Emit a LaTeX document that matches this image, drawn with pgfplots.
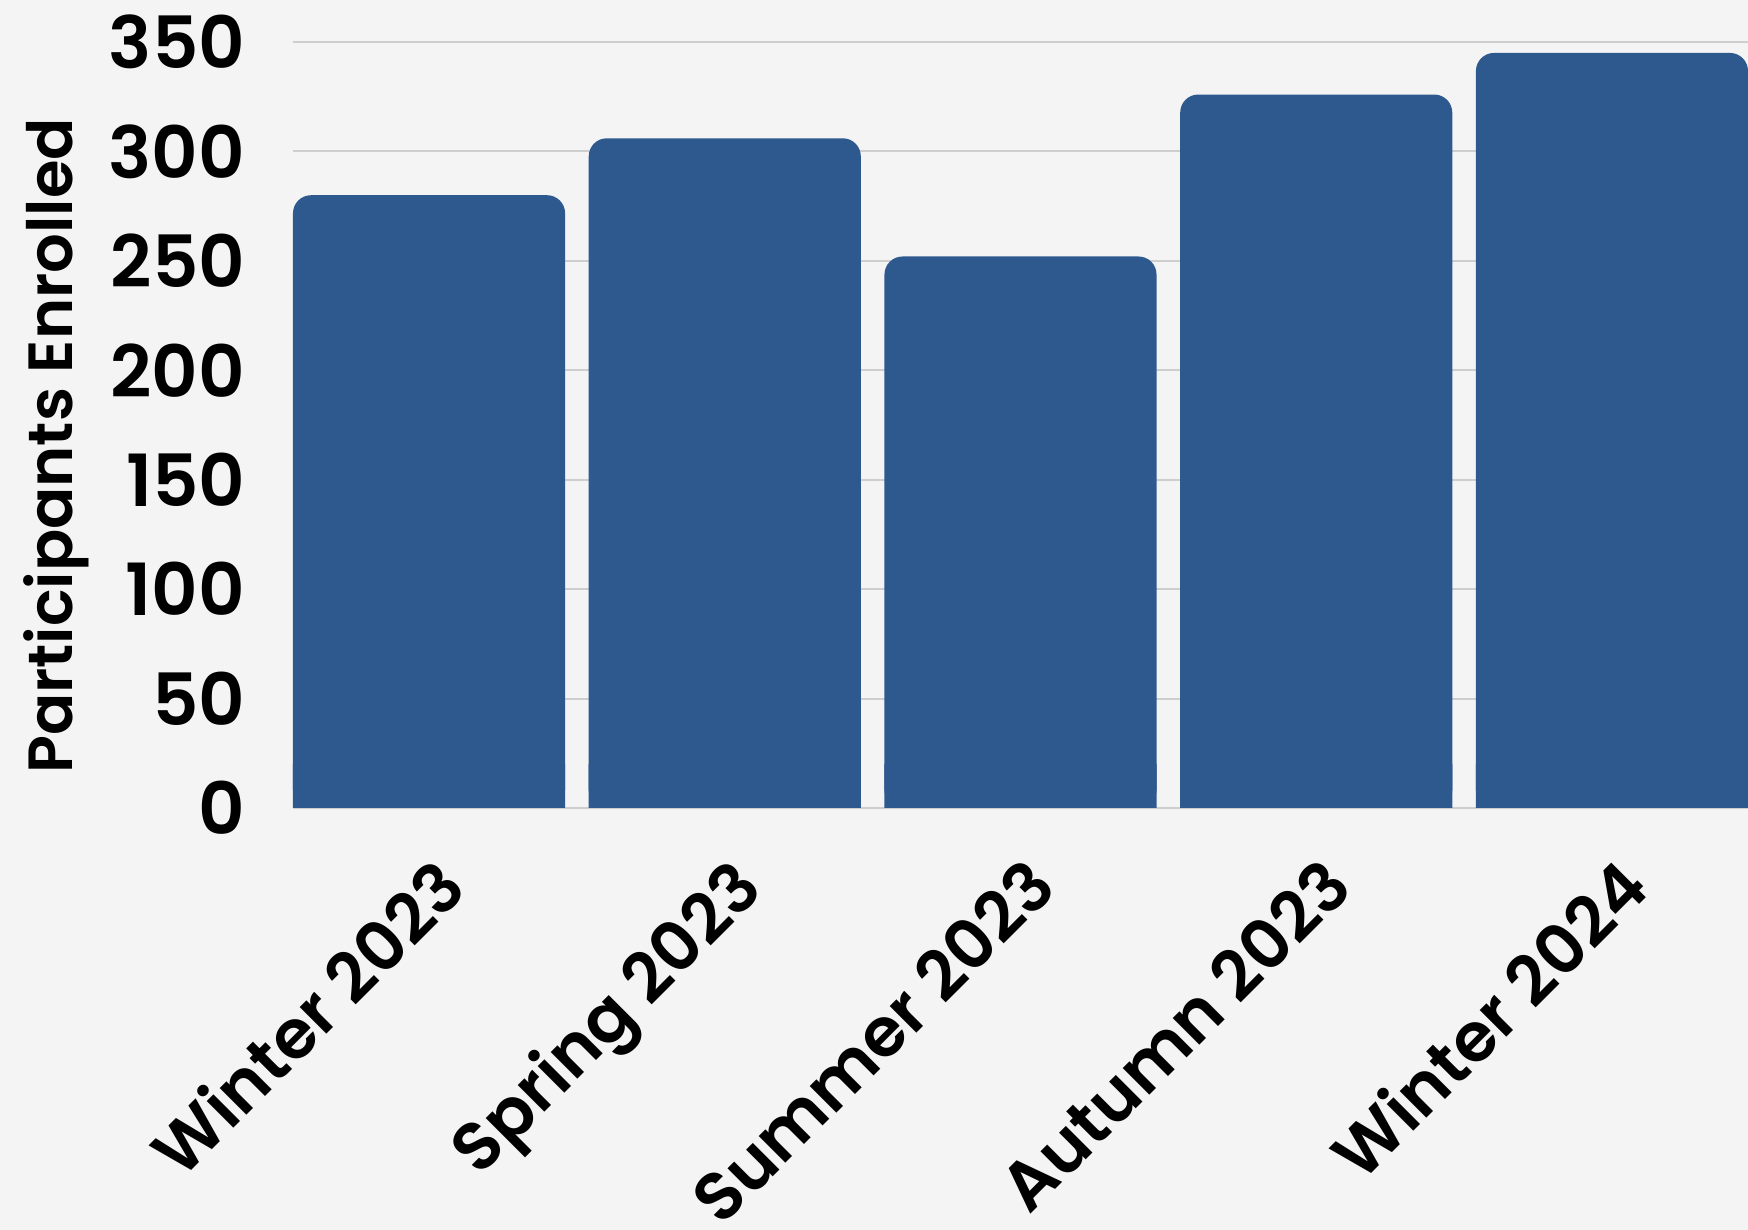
\documentclass[border=0pt]{standalone}
\usepackage{pgfplots}
\pgfplotsset{compat=1.18}
\usepackage{fontspec}
\setmainfont{Poppins}[BoldFont={Poppins SemiBold}]
\definecolor{barblue}{RGB}{46,89,142}
\definecolor{bgc}{RGB}{244,244,244}
\definecolor{gridc}{RGB}{206,206,206}
\begin{document}
\begin{tikzpicture}
\fill[bgc] (-73.25pt,-105.5pt) rectangle (363.75pt,202pt);
\begin{axis}[
  scale only axis, width=363.75pt, height=191.5pt,
  at={(0pt,0pt)}, anchor=south west,
  xmin=-0.46, xmax=4.46, ymin=0, ymax=350,
  axis line style={draw=none},
  major tick length=0pt,
  tick style={draw=none},
  ytick={0,50,...,350},
  ymajorgrids, grid style={gridc, line width=0.5pt},
  xtick={0,1,2,3,4},
  xticklabels={Winter 2023, Spring 2023, Summer 2023, Autumn 2023, Winter 2024},
  /pgf/number format/assume math mode=true,
  yticklabel style={font=\fontsize{18}{20}\selectfont\bfseries, anchor=east, inner sep=0pt, xshift=-11.8pt},
  xticklabel style={font=\fontsize{17}{19}\selectfont\bfseries, yshift=-11.3pt, xshift=0.75pt, rotate=45, anchor=north east, inner sep=0pt},
  ylabel={Participants Enrolled},
  every axis y label/.style={at={(axis description cs:-0.1625,0.4726)}, rotate=90, anchor=center, font=\fontsize{15.6}{18}\selectfont\bfseries},
  bar width=0.92,
]
\addplot[ybar, bar shift=0pt, fill=barblue, draw=none, rounded corners=4.5pt] coordinates {(0,280) (1,306) (2,252) (3,326) (4,345)};
\addplot[ybar, bar shift=0pt, fill=barblue, draw=none] coordinates {(0,20) (1,20) (2,20) (3,20) (4,20)};
\end{axis}
\pgfresetboundingbox
\path (-73.25pt,-105.5pt) rectangle (363.75pt,202pt);
\end{tikzpicture}
\end{document}
